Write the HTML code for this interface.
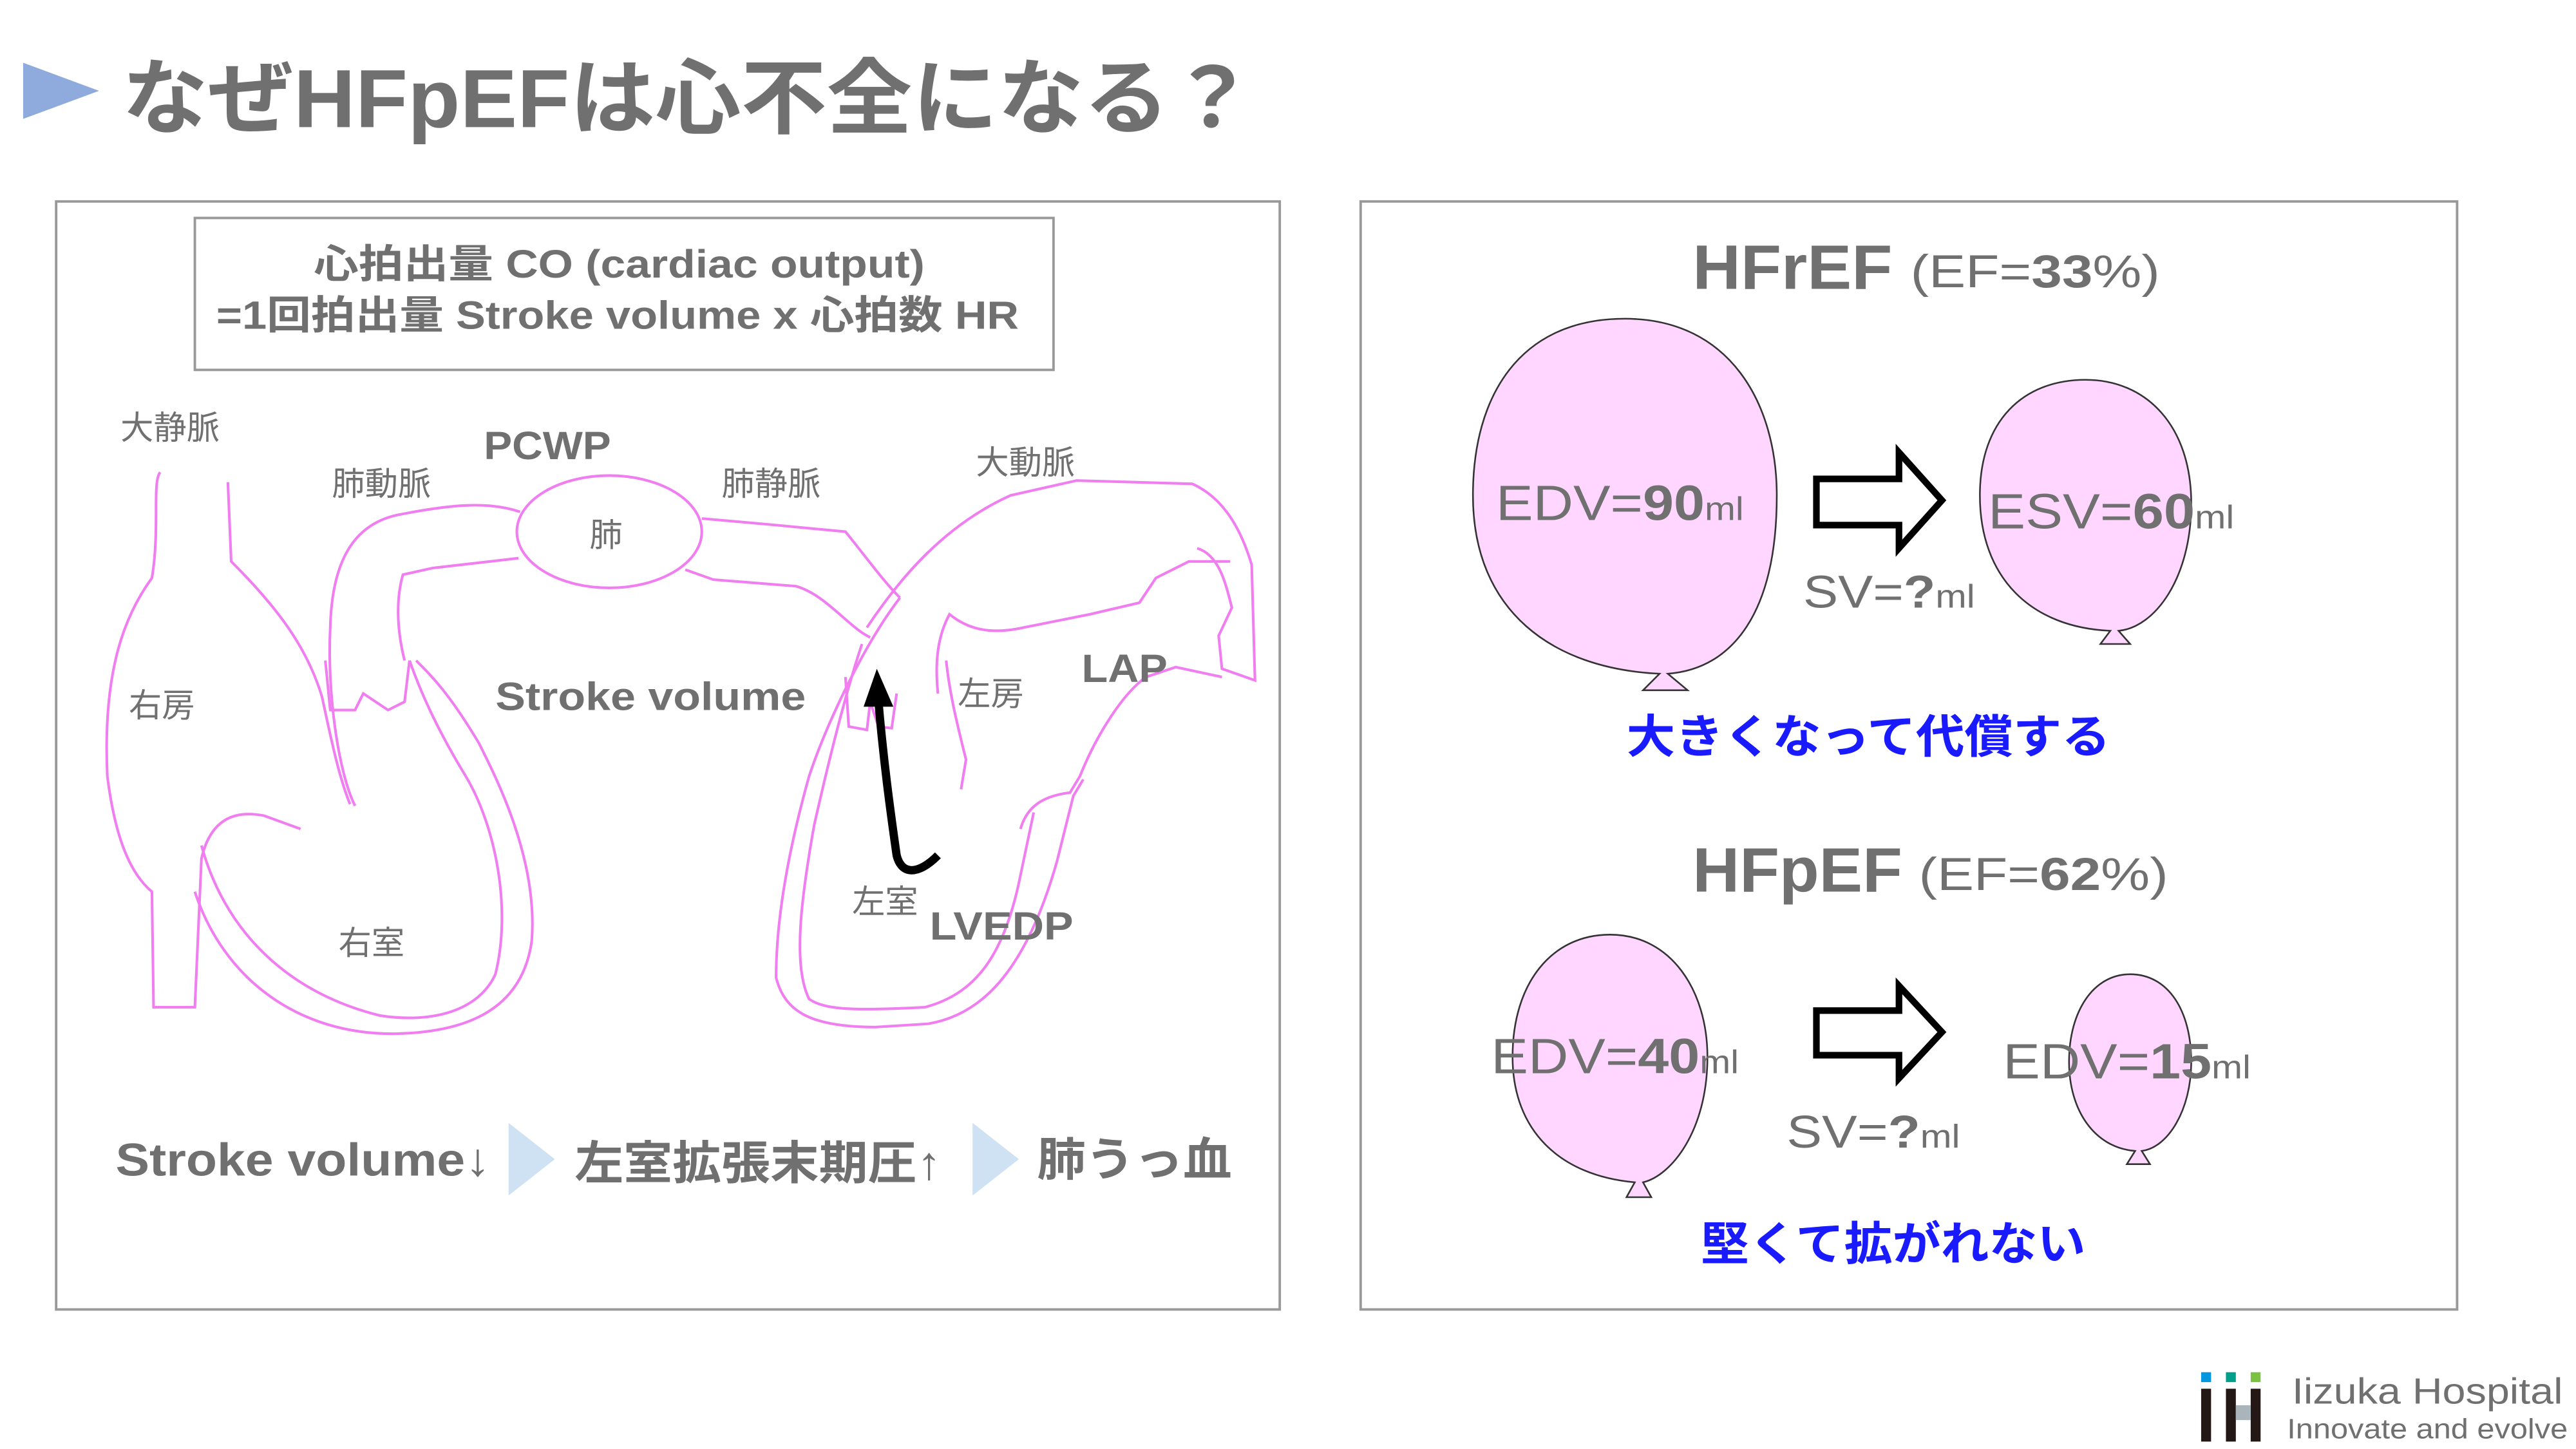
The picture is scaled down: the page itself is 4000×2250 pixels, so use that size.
<!DOCTYPE html>
<html><head><meta charset="utf-8"><style>
html,body{margin:0;padding:0;background:#fff}
svg{display:block}
text{font-family:"Liberation Sans","Noto Sans CJK JP",sans-serif;fill:#707070}
.b{font-weight:bold}
.p{fill:none;stroke:#f07ef0;stroke-width:1.6}
</style></head><body>
<svg width="4000" height="2250" viewBox="0 0 1560 877.5" xmlns="http://www.w3.org/2000/svg">
<rect width="1560" height="877.5" fill="#fff"/>
<polygon points="14,38 60,55 14,72" fill="#8faadc"/>
<text x="74" y="77" font-size="50" class="b" fill="#6b6b6b" textLength="686" lengthAdjust="spacingAndGlyphs">なぜHFpEFは心不全になる？</text>

<!-- left panel -->
<rect x="34" y="122" width="741" height="671" fill="none" stroke="#999" stroke-width="1.5"/>
<rect x="118" y="132" width="520" height="92" fill="none" stroke="#999" stroke-width="1.5"/>
<text x="190" y="168" font-size="24" class="b" textLength="370" lengthAdjust="spacingAndGlyphs">心拍出量 CO (cardiac output)</text>
<text x="131" y="199" font-size="24" class="b" textLength="486" lengthAdjust="spacingAndGlyphs">=1回拍出量 Stroke volume x 心拍数 HR</text>

<!-- heart outlines -->
<path class="p" d="M97,286 C92,292 97,320 92,350 C76,372 62,405 65,470 C70,510 80,530 92,540 L93,610 L118,610 L122,520 C127,498 140,490 160,494 L182,502"/>
<path class="p" d="M138,292 L140,340 C168,368 186,392 195,422 C200,445 205,470 212,487"/>
<path class="p" d="M215,488 C205,468 198,420 200,380 C201,340 214,318 240,312 C270,306 295,303 315,310"/>
<path class="p" d="M245,400 C240,380 240,362 244,348 L262,344 L314,338"/>
<path class="p" d="M197,400 L200,430 L215,430 L220,420 L235,430 L245,425 L248,400"/>
<path class="p" d="M122,512 C135,560 170,600 230,615 C262,620 290,612 300,590 C310,550 300,500 282,470 C265,442 255,420 248,400"/>
<path class="p" d="M118,540 C135,592 180,627 240,626 C282,625 316,612 322,570 C326,520 300,470 290,450 C272,420 262,410 252,400"/>
<ellipse cx="369" cy="322" rx="56" ry="34" fill="none" stroke="#f07ef0" stroke-width="1.6"/>
<path class="p" d="M425,314 L470,318 L512,322 C525,338 535,352 545,362"/>
<path class="p" d="M415,345 L432,351 L482,355 C500,360 514,380 527,386"/>
<path class="p" d="M525,380 C545,350 572,318 612,300 L652,291 L722,293 C742,302 752,322 758,342 L760,412 L740,405 L738,385 L746,368 C742,352 738,336 725,332"/>
<path class="p" d="M745,340 L720,340 L700,350 L690,365 L660,372 L620,380 C598,385 585,380 575,372 C568,385 566,400 568,420"/>
<path class="p" d="M545,362 C522,392 500,440 490,470 C476,520 470,560 470,592 C475,612 490,622 530,622 L562,620 C592,615 620,592 640,522 L650,482 L656,472"/>
<path class="p" d="M522,390 C512,420 502,460 493,500 C485,545 480,585 490,605 C500,612 520,612 560,610 C590,602 608,580 618,530 L626,492"/>
<path class="p" d="M512,410 L514,440 L525,442 L527,425 L532,440 L540,441 L543,420"/>
<path class="p" d="M573,400 C575,420 580,440 585,460 L582,478"/>
<path class="p" d="M618,502 C622,488 632,482 648,480 L654,470 C664,445 680,420 694,410 L712,404 L740,410"/>

<text x="73" y="266" font-size="20">大静脈</text>
<text x="201" y="300" font-size="20">肺動脈</text>
<text x="293" y="278" font-size="24" class="b" textLength="77" lengthAdjust="spacingAndGlyphs">PCWP</text>
<text x="357" y="331" font-size="20">肺</text>
<text x="437" y="300" font-size="20">肺静脈</text>
<text x="591" y="287" font-size="20">大動脈</text>
<text x="78" y="434" font-size="20">右房</text>
<text x="300" y="430" font-size="24" class="b" textLength="188" lengthAdjust="spacingAndGlyphs">Stroke volume</text>
<text x="580" y="427" font-size="20">左房</text>
<text x="655" y="413" font-size="24" class="b" textLength="52" lengthAdjust="spacingAndGlyphs">LAP</text>
<text x="516" y="553" font-size="20">左室</text>
<text x="563" y="569" font-size="24" class="b" textLength="87" lengthAdjust="spacingAndGlyphs">LVEDP</text>
<text x="205" y="578" font-size="20">右室</text>

<path d="M568,518 C556,530 546,530 543,518 C539,490 535,460 532,425" fill="none" stroke="#000" stroke-width="5"/>
<polygon points="523,428 541,428 531,405" fill="#000"/>

<text x="70" y="712" font-size="28" class="b" textLength="227" lengthAdjust="spacingAndGlyphs">Stroke volume↓</text>
<polygon points="308,680 336,702 308,724" fill="#cfe2f3"/>
<text x="348" y="714" font-size="28" class="b" textLength="222" lengthAdjust="spacingAndGlyphs">左室拡張末期圧↑</text>
<polygon points="589,680 617,702 589,724" fill="#cfe2f3"/>
<text x="628" y="712" font-size="28" class="b" textLength="118" lengthAdjust="spacingAndGlyphs">肺うっ血</text>

<!-- right panel -->
<rect x="824" y="122" width="664" height="671" fill="none" stroke="#999" stroke-width="1.5"/>
<text x="1025" y="175" font-size="38" class="b" textLength="121" lengthAdjust="spacingAndGlyphs">HFrEF</text>
<text x="1157" y="174" font-size="28" textLength="151" lengthAdjust="spacingAndGlyphs">(EF=<tspan class="b">33</tspan>%)</text>

<path d="M1005,408 C940,405 892,370 892,300 C892,240 920,193 984,193 C1048,193 1076,245 1076,300 C1076,370 1050,405 1010,408 L1022,418 L995,418 Z" fill="#ffd6ff" stroke="#333" stroke-width="1"/>
<text x="906" y="315" font-size="30" textLength="150" lengthAdjust="spacingAndGlyphs">EDV=<tspan class="b">90</tspan><tspan font-size="20">ml</tspan></text>
<polygon points="1100,290 1150,290 1150,274 1176,303 1150,332 1150,318 1100,318" fill="#fff" stroke="#000" stroke-width="4"/>
<text x="1092" y="368" font-size="28" textLength="104" lengthAdjust="spacingAndGlyphs">SV=<tspan class="b">?</tspan><tspan font-size="20">ml</tspan></text>
<path d="M1278,382 C1230,380 1199,350 1199,300 C1199,255 1225,230 1263,230 C1300,230 1327,258 1327,305 C1327,350 1305,380 1283,382 L1290,390 L1272,390 Z" fill="#ffd6ff" stroke="#333" stroke-width="1"/>
<text x="1204" y="320" font-size="30" textLength="149" lengthAdjust="spacingAndGlyphs">ESV=<tspan class="b">60</tspan><tspan font-size="20">ml</tspan></text>
<text x="985" y="456" font-size="28" class="b" style="fill:#1a1aff" textLength="293" lengthAdjust="spacingAndGlyphs">大きくなって代償する</text>

<text x="1025" y="540" font-size="38" class="b" textLength="127" lengthAdjust="spacingAndGlyphs">HFpEF</text>
<text x="1162" y="539" font-size="28" textLength="151" lengthAdjust="spacingAndGlyphs">(EF=<tspan class="b">62</tspan>%)</text>
<path d="M990,716 C945,712 916,685 916,640 C916,595 940,566 975,566 C1012,566 1034,600 1034,640 C1034,685 1012,712 995,716 L1000,725 L985,725 Z" fill="#ffd6ff" stroke="#333" stroke-width="1"/>
<text x="903" y="650" font-size="30" textLength="150" lengthAdjust="spacingAndGlyphs">EDV=<tspan class="b">40</tspan><tspan font-size="20">ml</tspan></text>
<polygon points="1100,612 1150,612 1150,597 1176,625 1150,653 1150,639 1100,639" fill="#fff" stroke="#000" stroke-width="4"/>
<text x="1082" y="695" font-size="28" textLength="105" lengthAdjust="spacingAndGlyphs">SV=<tspan class="b">?</tspan><tspan font-size="20">ml</tspan></text>
<path d="M1293,697 C1268,695 1253,672 1253,643 C1253,612 1268,590 1290,590 C1313,590 1327,612 1327,643 C1327,672 1313,695 1297,697 L1302,705 L1288,705 Z" fill="#ffd6ff" stroke="#333" stroke-width="1"/>
<text x="1213" y="653" font-size="30" textLength="150" lengthAdjust="spacingAndGlyphs">EDV=<tspan class="b">15</tspan><tspan font-size="20">ml</tspan></text>
<text x="1030" y="763" font-size="28" class="b" style="fill:#1a1aff" textLength="233" lengthAdjust="spacingAndGlyphs">堅くて拡がれない</text>

<!-- logo -->
<rect x="1333" y="831" width="6" height="6" fill="#0096e0"/>
<rect x="1348" y="831" width="6" height="6" fill="#00a08c"/>
<rect x="1363" y="831" width="6" height="6" fill="#7bc142"/>
<rect x="1333" y="841" width="6" height="32" fill="#231815"/>
<rect x="1348" y="841" width="6" height="32" fill="#231815"/>
<rect x="1363" y="841" width="6" height="32" fill="#231815"/>
<rect x="1354" y="851" width="9" height="9" fill="#a9b5bb"/>
<text x="1388" y="850" font-size="22" fill="#777" textLength="164" lengthAdjust="spacingAndGlyphs">Iizuka Hospital</text>
<text x="1385" y="871" font-size="17" fill="#777" textLength="170" lengthAdjust="spacingAndGlyphs">Innovate and evolve</text>
</svg>
</body></html>
